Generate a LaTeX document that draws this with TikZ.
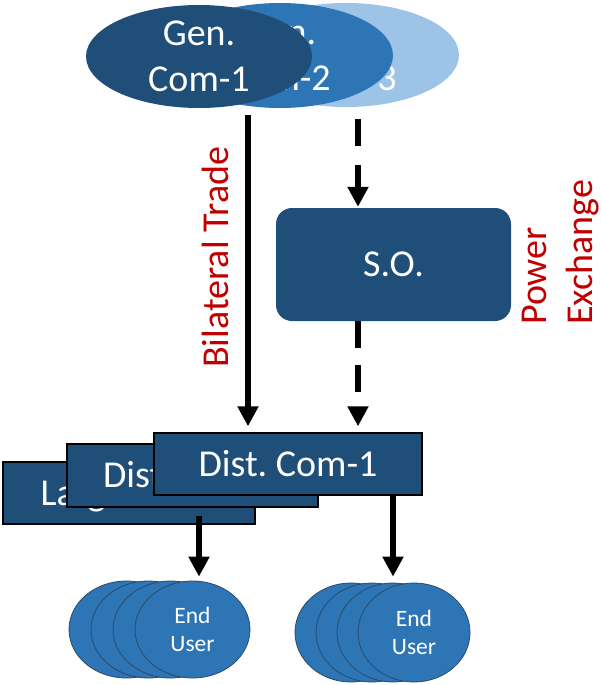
\documentclass[tikz,border=0pt]{standalone}
\usepackage{fontspec}
\setmainfont{Carlito}
\usetikzlibrary{arrows.meta,shapes.geometric}
\definecolor{dkblue}{HTML}{1F4E79}
\definecolor{mdblue}{HTML}{2E75B6}
\definecolor{ltblue}{HTML}{9DC3E6}
\definecolor{redtxt}{HTML}{C00000}
\definecolor{euline}{HTML}{2A4A66}
\frenchspacing
\tikzset{
  bigfont/.style={font=\fontsize{38}{46}\selectfont},
  genell/.style={ellipse, inner sep=0pt, text=white, align=center, bigfont},
  distbox/.style={rectangle, fill=dkblue, draw=black, line width=1.4pt, text=white, bigfont, text height=24.5pt, text depth=0pt, inner sep=0pt},
  sobox/.style={rectangle, rounded corners=16pt, fill=dkblue, text=white, bigfont, text height=24.5pt, text depth=0pt, inner sep=0pt},
  eu/.style={ellipse, fill=mdblue, draw=euline, line width=0.8pt, inner sep=0pt, text=white, align=center, font=\fontsize{23.5}{28}\selectfont},
  lbl/.style={text=redtxt, bigfont, inner sep=0pt, rotate=90},
  arr/.style={line width=5.5pt, -{Triangle[length=20pt,width=20pt]}},
  dasharr/.style={arr, dash pattern=on 27pt off 19pt}
}
\begin{document}
\begin{tikzpicture}[x=1pt,y=-1pt]
\useasboundingbox (0,0) rectangle (601,685);
% generation companies
\node[genell, fill=ltblue, minimum width=226pt, minimum height=104pt] (gen3) at (346,55) {Gen.\\Com-3};
\node[genell, fill=mdblue, minimum width=226pt, minimum height=105pt] (gen2) at (280,55.5) {Gen.\\Com-2};
\node[genell, fill=dkblue, minimum width=226pt, minimum height=103pt] (gen1) at (199,56.5) {Gen.\\Com-1};
% system operator
\node[sobox, minimum width=235pt, minimum height=113pt] (so) at (393.5,264.5) {S.O.};
% distribution companies
\node[distbox, minimum width=252pt, minimum height=62pt] (d3) at (129,493) {Large Cons.};
\node[distbox, minimum width=251pt, minimum height=63pt] (d2) at (192.5,475.5) {Dist. Com-2};
\node[distbox, minimum width=268pt, minimum height=62pt] (d1) at (288,464) {Dist. Com-1};
% end users, group 1
\node[eu, minimum width=115pt, minimum height=97pt] (ua4) at (126.5,629.5) {};
\node[eu, minimum width=115pt, minimum height=97pt] (ua3) at (148.5,629.5) {};
\node[eu, minimum width=115pt, minimum height=97pt] (ua2) at (170.5,629.5) {};
\node[eu, minimum width=115pt, minimum height=97pt] (ua1) at (192.5,629.5) {End\\User};
% end users, group 2
\node[eu, minimum width=112pt, minimum height=99pt] (ub4) at (351,632.5) {};
\node[eu, minimum width=112pt, minimum height=99pt] (ub3) at (372,632.5) {};
\node[eu, minimum width=112pt, minimum height=99pt] (ub2) at (393,632.5) {};
\node[eu, minimum width=112pt, minimum height=99pt] (ub1) at (414,632.5) {End\\User};
% connectors
\coordinate (s1) at (248,115);
\coordinate (s2) at (358,119);
\coordinate (s3) at (358,321);
\coordinate (s4) at (199,516);
\coordinate (s5) at (393,495);
\draw[arr, shorten >=6pt] (s1) -- (s1 |- d1.north);
\draw[dasharr, shorten >=1pt] (s2) -- (s2 |- so.north);
\draw[arr, dash pattern=on 27pt off 17pt, shorten >=6pt] (s3) -- (s3 |- d1.north);
\draw[arr, shorten >=4pt] (s4) -- (s4 |- ua1.north);
\draw[arr, shorten >=6pt] (s5) -- (s5 |- ub1.north);
% labels
\node[lbl, anchor=base west] (bt) at (228,368) {Bilateral Trade};
\node[lbl, anchor=south west, align=left] (pe) at (599,325) {Power\\Exchange};
\end{tikzpicture}
\end{document}
